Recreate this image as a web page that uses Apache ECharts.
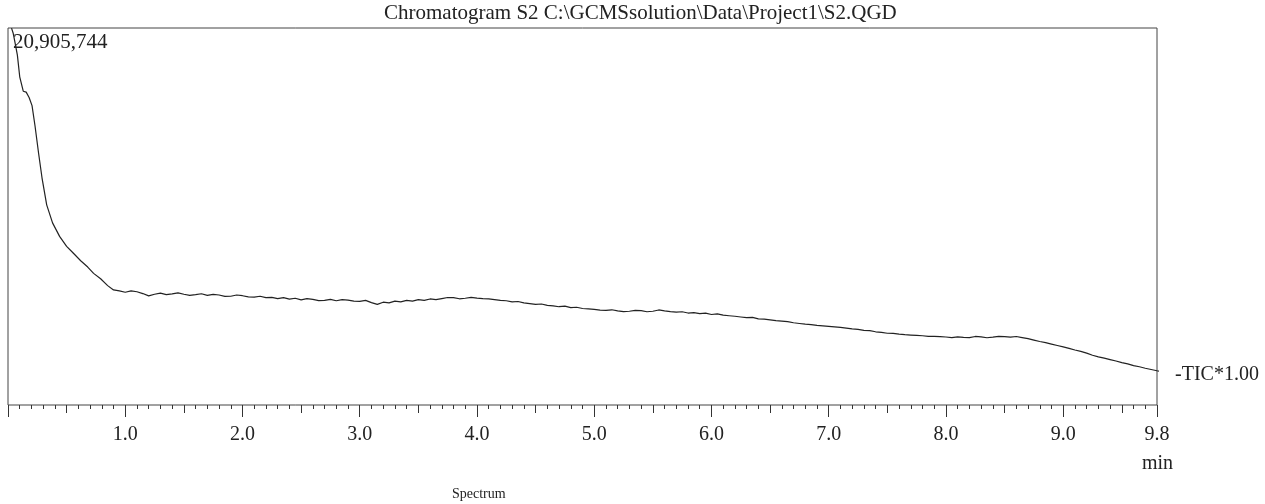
<!DOCTYPE html>
<html>
<head>
<meta charset="utf-8">
<script src="https://cdn.jsdelivr.net/npm/echarts@6/dist/echarts.min.js"></script>
<style>
  html, body { margin: 0; padding: 0; background: #fff; }
  #main { width: 1265px; height: 504px; }
</style>
</head>
<body>
<div id="main"></div>
<script>
// 保留时间 (min)
var times = [
  0.03, 0.045, 0.06, 0.08, 0.10, 0.13, 0.155, 0.18, 0.205, 0.23, 0.26, 0.29,
  0.33, 0.38, 0.44, 0.50, 0.56, 0.62, 0.68, 0.73, 0.79, 0.85, 0.90, 0.95,
  1.00, 1.05, 1.10, 1.15, 1.20, 1.25, 1.30, 1.35, 1.40, 1.45, 1.50, 1.55, 1.60, 1.65, 1.70, 1.75, 1.80, 1.85, 1.90, 1.95,
  2.00, 2.05, 2.10, 2.15, 2.20, 2.25, 2.30, 2.35, 2.40, 2.45, 2.50, 2.55, 2.60, 2.65, 2.70, 2.75, 2.80, 2.85, 2.90, 2.95,
  3.00, 3.05, 3.10, 3.15, 3.20, 3.25, 3.30, 3.35, 3.40, 3.45, 3.50, 3.55, 3.60, 3.65, 3.70, 3.75, 3.80, 3.85, 3.90, 3.95,
  4.00, 4.05, 4.10, 4.15, 4.20, 4.25, 4.30, 4.35, 4.40, 4.45, 4.50, 4.55, 4.60, 4.65, 4.70, 4.75, 4.80, 4.85, 4.90, 4.95,
  5.00, 5.05, 5.10, 5.15, 5.20, 5.25, 5.30, 5.35, 5.40, 5.45, 5.50, 5.55, 5.60, 5.65, 5.70, 5.75, 5.80, 5.85, 5.90, 5.95,
  6.00, 6.05, 6.10, 6.15, 6.20, 6.25, 6.30, 6.35, 6.40, 6.45, 6.50, 6.55, 6.60, 6.65, 6.70, 6.75, 6.80, 6.85, 6.90, 6.95,
  7.00, 7.05, 7.10, 7.15, 7.20, 7.25, 7.30, 7.35, 7.40, 7.45, 7.50, 7.55, 7.60, 7.65, 7.70, 7.75, 7.80, 7.85, 7.90, 7.95,
  8.00, 8.05, 8.10, 8.15, 8.20, 8.25, 8.30, 8.35, 8.40, 8.45, 8.50, 8.55, 8.60, 8.65, 8.70, 8.75, 8.80, 8.85, 8.90, 8.95,
  9.00, 9.05, 9.10, 9.15, 9.20, 9.25, 9.30, 9.35, 9.40, 9.45, 9.50, 9.55, 9.60, 9.65, 9.70, 9.75, 9.80, 9.90
];
// TIC 强度 (百万)
var tic = [
  20.9, 20.6, 20.1, 19.4, 18.2, 17.4, 17.35, 17.05, 16.6, 15.5, 14.0, 12.6,
  11.1, 10.1, 9.35, 8.8, 8.4, 8.0, 7.65, 7.3, 7.0, 6.62, 6.38, 6.33,
  6.25, 6.33, 6.28, 6.18, 6.05, 6.14, 6.2, 6.12, 6.16, 6.22, 6.14, 6.08, 6.12, 6.17, 6.08, 6.13, 6.1, 6.02, 6.03, 6.1,
  6.06, 6.0, 5.98, 6.03, 5.95, 5.97, 5.9, 5.95, 5.87, 5.92, 5.83, 5.9, 5.86, 5.79, 5.8, 5.86, 5.78, 5.84, 5.82, 5.76,
  5.75, 5.8, 5.68, 5.58, 5.7, 5.66, 5.76, 5.72, 5.8, 5.76, 5.84, 5.8, 5.88, 5.84, 5.9, 5.96, 5.95, 5.89, 5.92, 5.97,
  5.93, 5.9, 5.88, 5.84, 5.8, 5.78, 5.72, 5.74, 5.66, 5.62, 5.58, 5.6, 5.52, 5.5, 5.45, 5.48, 5.4, 5.42, 5.35, 5.33,
  5.3, 5.26, 5.25, 5.28, 5.22, 5.18, 5.2, 5.25, 5.23, 5.17, 5.2, 5.27, 5.22, 5.18, 5.15, 5.17, 5.1, 5.12, 5.07, 5.09,
  5.02, 5.05, 4.98, 4.95, 4.92, 4.88, 4.84, 4.86, 4.78, 4.76, 4.72, 4.68, 4.65, 4.62, 4.56, 4.52, 4.48, 4.46, 4.42, 4.39,
  4.36, 4.33, 4.3, 4.26, 4.22, 4.19, 4.14, 4.12, 4.06, 4.03, 3.98, 3.97, 3.93, 3.9, 3.88, 3.86, 3.84, 3.81, 3.8, 3.79,
  3.77, 3.74, 3.78, 3.75, 3.74, 3.8, 3.78, 3.73, 3.76, 3.81, 3.79, 3.76, 3.8, 3.74, 3.68, 3.6, 3.52, 3.46, 3.38, 3.3,
  3.22, 3.14, 3.05, 2.97, 2.88, 2.76, 2.67, 2.6, 2.52, 2.44, 2.35, 2.28, 2.18, 2.12, 2.04, 1.97, 1.9, 1.77
];
var yMax = 20.905744;
var xMax = 9.8;

var chart = echarts.init(document.getElementById("main"));
var serif = "'Liberation Serif', 'DejaVu Serif', serif";

var data = times.map(function (t, i) { return [t, tic[i]]; });

function tickAxis(interval, len, showLabel) {
  return {
    type: "value",
    position: "bottom",
    min: 0,
    max: xMax,
    interval: interval,
    axisLine: { show: false },
    axisTick: { show: true, length: len, lineStyle: { color: "#333", width: 1 } },
    splitLine: { show: false },
    axisLabel: {
      show: showLabel,
      margin: 20,
      fontFamily: serif,
      fontSize: 20,
      color: "#222",
      formatter: function (v) { return v === 0 ? "" : v.toFixed(1); }
    }
  };
}

var option = {
  backgroundColor: "#fff",
  animation: false,
  grid: {
    left: 8,
    right: 108,
    top: 28,
    bottom: 99,
    show: true,
    borderColor: "#444",
    borderWidth: 1
  },
  xAxis: [tickAxis(1, 12, true), tickAxis(0.5, 8, false), tickAxis(0.1, 4, false)],
  yAxis: {
    type: "value",
    min: 0,
    max: yMax,
    axisLine: { show: false },
    axisTick: { show: false },
    axisLabel: { show: false },
    splitLine: { show: false }
  },
  series: [
    {
      type: "line",
      data: data,
      showSymbol: false,
      clip: false,
      lineStyle: { color: "#222", width: 1.2 },
      endLabel: {
        show: true,
        formatter: "-TIC*1.00",
        distance: 16,
        offset: [0, 4],
        fontFamily: serif,
        fontSize: 20,
        color: "#222"
      }
    }
  ],
  graphic: [
    {
      type: "text",
      left: 384,
      top: 3,
      style: {
        text: "Chromatogram S2 C:\\GCMSsolution\\Data\\Project1\\S2.QGD",
        font: "21px " + serif,
        fill: "#222"
      }
    },
    {
      type: "text",
      left: 13,
      top: 32,
      style: { text: "20,905,744", font: "21px " + serif, fill: "#222" }
    },
    {
      type: "text",
      left: 1142,
      top: 454,
      style: { text: "min", font: "20px " + serif, fill: "#222" }
    },
    {
      type: "text",
      left: 452,
      top: 487,
      style: { text: "Spectrum", font: "14px " + serif, fill: "#222" }
    }
  ]
};
chart.setOption(option);
</script>
</body>
</html>
